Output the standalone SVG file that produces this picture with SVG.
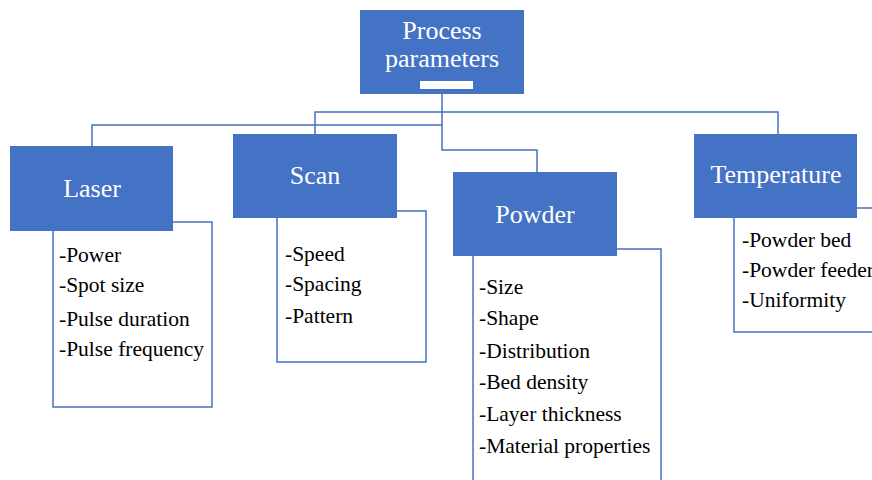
<svg xmlns="http://www.w3.org/2000/svg" width="872" height="480" viewBox="0 0 872 480">
<style>
.hd{fill:#4472C4;}
.sub{fill:#fff;stroke:#4472C4;stroke-width:1.5;}
.ln{fill:none;stroke:#4472C4;stroke-width:1.5;}
.t{font-family:"Liberation Serif","Times New Roman",serif;fill:#fff;font-size:26px;text-anchor:middle;}
.i{font-family:"Liberation Serif","Times New Roman",serif;fill:#000;font-size:21.5px;}
</style>
<rect width="872" height="480" fill="#fff"/>
<g id="connectors">
<path class="ln" d="M442 94V150H537V172"/>
<path class="ln" d="M92 146V125H442"/>
<path class="ln" d="M315 134V112H778V134"/>
</g>
<g id="process">
<rect class="hd" x="360" y="10" width="164" height="84"/>
<text class="t" x="442" y="39">Process</text>
<text class="t" x="442" y="67">parameters</text>
<rect x="420" y="81" width="53" height="8" fill="#fff"/>
</g>
<g id="laser">
<rect class="sub" x="53" y="222" width="159" height="185"/>
<rect class="hd" x="10" y="146" width="163" height="85"/>
<text class="t" x="92" y="197">Laser</text>
<text class="i" x="59" y="262">-Power</text>
<text class="i" x="59" y="292">-Spot size</text>
<text class="i" x="59" y="326">-Pulse duration</text>
<text class="i" x="59" y="356">-Pulse frequency</text>
</g>
<g id="scan">
<rect class="sub" x="277" y="211" width="149" height="151"/>
<rect class="hd" x="233" y="134" width="164" height="84"/>
<text class="t" x="315" y="184">Scan</text>
<text class="i" x="285" y="261">-Speed</text>
<text class="i" x="285" y="291">-Spacing</text>
<text class="i" x="285" y="323">-Pattern</text>
</g>
<g id="powder">
<rect class="sub" x="473" y="249" width="188" height="260"/>
<rect class="hd" x="453" y="172" width="164" height="84"/>
<text class="t" x="535" y="223">Powder</text>
<text class="i" x="479" y="294">-Size</text>
<text class="i" x="479" y="325">-Shape</text>
<text class="i" x="479" y="358">-Distribution</text>
<text class="i" x="479" y="389">-Bed density</text>
<text class="i" x="479" y="421">-Layer thickness</text>
<text class="i" x="479" y="453">-Material properties</text>
</g>
<g id="temperature">
<rect class="sub" x="734" y="208" width="160" height="124"/>
<rect class="hd" x="694" y="134" width="163" height="84"/>
<text class="t" x="776" y="183">Temperature</text>
<text class="i" x="742" y="247">-Powder bed</text>
<text class="i" x="742" y="277">-Powder feeder</text>
<text class="i" x="742" y="307">-Uniformity</text>
</g>
</svg>
